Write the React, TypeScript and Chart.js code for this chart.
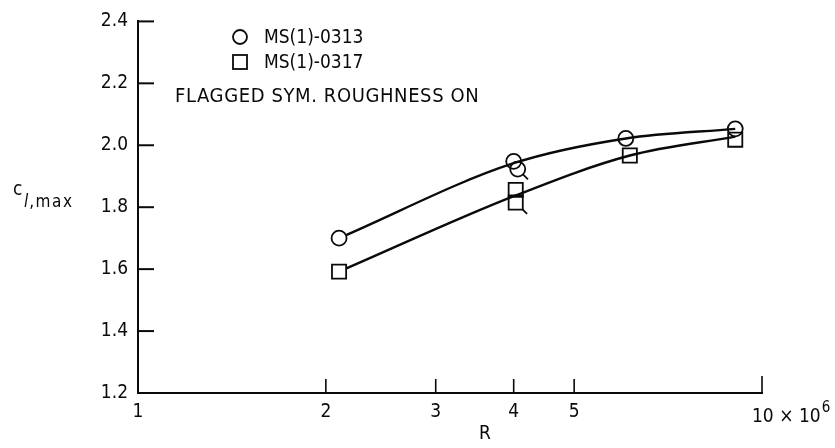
import React, { useEffect, useRef } from 'react';
import { Chart, registerables } from 'chart.js';
Chart.register(...registerables);

// ---- data ----
const yTicks = [1.2, 1.4, 1.6, 1.8, 2.0, 2.2, 2.4];
const xTicks = [1, 2, 3, 4, 5, 10];

// MS(1)-0313 measured points (R in millions, cl,max)
const ms0313R = [2.1, 4.0, 4.06, 6.05, 9.06];
const ms0313Cl = [1.70, 1.948, 1.923, 2.022, 2.053];
const ms0313Flag = [false, false, true, false, false];
// MS(1)-0317 measured points
const ms0317R = [2.1, 4.03, 4.03, 6.14, 9.06];
const ms0317Cl = [1.592, 1.856, 1.815, 1.967, 2.018];
const ms0317Flag = [false, false, true, false, false];
// faired curves
const fair0313R = [2.1, 4.0, 6.05, 9.06];
const fair0313Cl = [1.70, 1.942, 2.022, 2.053];
const fair0317R = [2.1, 4.03, 6.14, 9.06];
const fair0317Cl = [1.592, 1.838, 1.967, 2.028];

const legendLabels = ['MS(1)-0313', 'MS(1)-0317'];
const noteText = 'FLAGGED SYM. ROUGHNESS ON';

const INK = '#0a0a0a';
const FONT = '"DejaVu Sans Condensed", "DejaVu Sans", sans-serif';

const pts = (xs: number[], ys: number[]) => xs.map((x, i) => ({ x, y: ys[i] }));

const decor = {
  id: 'decor',
  afterDraw(chart: any) {
    const ctx = chart.ctx as any;
    const xs = chart.scales.x;
    const ys = chart.scales.y;
    ctx.save();
    ctx.strokeStyle = INK;
    ctx.fillStyle = INK;
    ctx.lineCap = 'butt';
    const line = (x1: number, y1: number, x2: number, y2: number) => {
      ctx.beginPath();
      ctx.moveTo(x1, y1);
      ctx.lineTo(x2, y2);
      ctx.stroke();
    };
    // inward tick marks
    ctx.lineWidth = 2;
    yTicks.forEach((v, i) => {
      if (i === 0) return;
      const py = ys.getPixelForValue(v);
      line(xs.left, py, xs.left + 16, py);
    });
    ctx.lineWidth = 1.6;
    xTicks.forEach((v, i) => {
      if (i === 0) return;
      const px = xs.getPixelForValue(v);
      line(px, ys.bottom, px, ys.bottom - (v === 10 ? 17 : 14));
    });

    // flags on flagged points
    ctx.lineWidth = 1.8;
    [[0, ms0313Flag, 7.5], [1, ms0317Flag, 9]].forEach(([di, flags, r]: any) => {
      const meta = chart.getDatasetMeta(di);
      flags.forEach((f: boolean, i: number) => {
        if (!f) return;
        const el = meta.data[i];
        const a = Math.PI / 4;
        const sx = el.x + r * Math.cos(a);
        const sy = el.y + r * Math.sin(a);
        line(sx, sy, sx + 5, sy + 5);
      });
    });

    // "10 x 10^6" label
    const p10 = xs.getPixelForValue(10);
    ctx.font = `19px ${FONT}`;
    ctx.textBaseline = 'alphabetic';
    ctx.textAlign = 'left';
    const base = 422;
    const main = '10 \u00d7 10';
    ctx.fillText(main, p10 - 10, base);
    const w = ctx.measureText(main).width;
    ctx.font = `15px ${FONT}`;
    ctx.fillText('6', p10 - 10 + w + 1, base - 10);

    // x title
    ctx.font = `19px ${FONT}`;
    ctx.textAlign = 'center';
    ctx.fillText('R', xs.left + 0.556 * (xs.right - xs.left), 439);

    // y title c_{l,max}
    ctx.textAlign = 'left';
    ctx.font = `19px ${FONT}`;
    ctx.fillText('c', 13, 195);
    ctx.font = `italic 17px ${FONT}`;
    ctx.fillText('l', 24, 207);
    const lw = ctx.measureText('l').width;
    ctx.font = `17px ${FONT}`;
    ctx.letterSpacing = '1.5px';
    ctx.fillText(',max', 24 + lw + 1, 207);
    ctx.letterSpacing = '0px';

    // legend
    ctx.lineWidth = 1.8;
    ctx.beginPath();
    ctx.arc(240, 37, 7, 0, Math.PI * 2);
    ctx.stroke();
    ctx.strokeRect(233, 55, 14, 14);
    ctx.font = `19px ${FONT}`;
    ctx.textBaseline = 'middle';
    ctx.fillText(legendLabels[0], 264, 38);
    ctx.fillText(legendLabels[1], 264, 63);
    ctx.font = `20px ${FONT}`;
    ctx.letterSpacing = '0.6px';
    ctx.fillText(noteText, 175, 97);
    ctx.letterSpacing = '0px';
    ctx.restore();
  },
};

export default function App() {
  const ref = useRef<HTMLCanvasElement>(null);
  useEffect(() => {
    if (!ref.current) return;
    const chart = new Chart(ref.current, {
      type: 'scatter',
      data: {
        datasets: [
          {
            label: legendLabels[0],
            data: pts(ms0313R, ms0313Cl),
            pointStyle: 'circle',
            pointRadius: 7.5,
            pointBorderWidth: 1.8,
            pointBorderColor: INK,
            pointBackgroundColor: ms0313R.map((_, i) => (i === 0 ? '#ffffff' : 'rgba(0,0,0,0)')),
            showLine: false,
          },
          {
            label: legendLabels[1],
            data: pts(ms0317R, ms0317Cl),
            pointStyle: 'rect',
            pointRadius: 10,
            pointBorderWidth: 1.8,
            pointBorderColor: INK,
            pointBackgroundColor: ms0317R.map((_, i) => (i === 0 ? '#ffffff' : 'rgba(0,0,0,0)')),
            showLine: false,
          },
          {
            label: 'fair 0313',
            data: pts(fair0313R, fair0313Cl),
            showLine: true,
            pointRadius: 0,
            borderColor: INK,
            borderWidth: 2.4,
            cubicInterpolationMode: 'monotone',
          },
          {
            label: 'fair 0317',
            data: pts(fair0317R, fair0317Cl),
            showLine: true,
            pointRadius: 0,
            borderColor: INK,
            borderWidth: 2.4,
            cubicInterpolationMode: 'monotone',
          },
        ] as any,
      },
      options: {
        animation: false,
        responsive: false,
        events: [],
        layout: { padding: { top: 16, right: 73, left: 0, bottom: 0 } },
        plugins: { legend: { display: false }, tooltip: { enabled: false } },
        scales: {
          x: {
            type: 'logarithmic',
            min: 1,
            max: 10,
            afterFit: (s: any) => { s.height = 55; },
            afterBuildTicks: (s: any) => { s.ticks = xTicks.map((v) => ({ value: v })); },
            grid: { display: true, drawOnChartArea: false, drawTicks: false },
            border: { display: true, color: INK, width: 2 },
            ticks: {
              autoSkip: false,
              maxRotation: 0,
              padding: 8,
              color: INK,
              font: { family: FONT, size: 19 },
              callback: (v: any) => (Number(v) === 10 ? '' : String(v)),
            },
          },
          y: {
            type: 'linear',
            min: 1.2,
            max: 2.4,
            afterFit: (s: any) => { s.width = 138; },
            afterBuildTicks: (s: any) => { s.ticks = yTicks.map((v) => ({ value: v })); },
            grid: { display: true, drawOnChartArea: false, drawTicks: false },
            border: { display: true, color: INK, width: 2 },
            ticks: {
              padding: 10,
              color: INK,
              font: { family: FONT, size: 19 },
              callback: (v: any) => Number(v).toFixed(1),
            },
          },
        },
      } as any,
      plugins: [decor],
    });
    return () => chart.destroy();
  }, []);
  return (
    <div style={{ position: 'absolute', left: 0, top: 0, width: 835, height: 448, background: '#fff' }}>
      <canvas ref={ref} width={835} height={448} />
    </div>
  );
}
